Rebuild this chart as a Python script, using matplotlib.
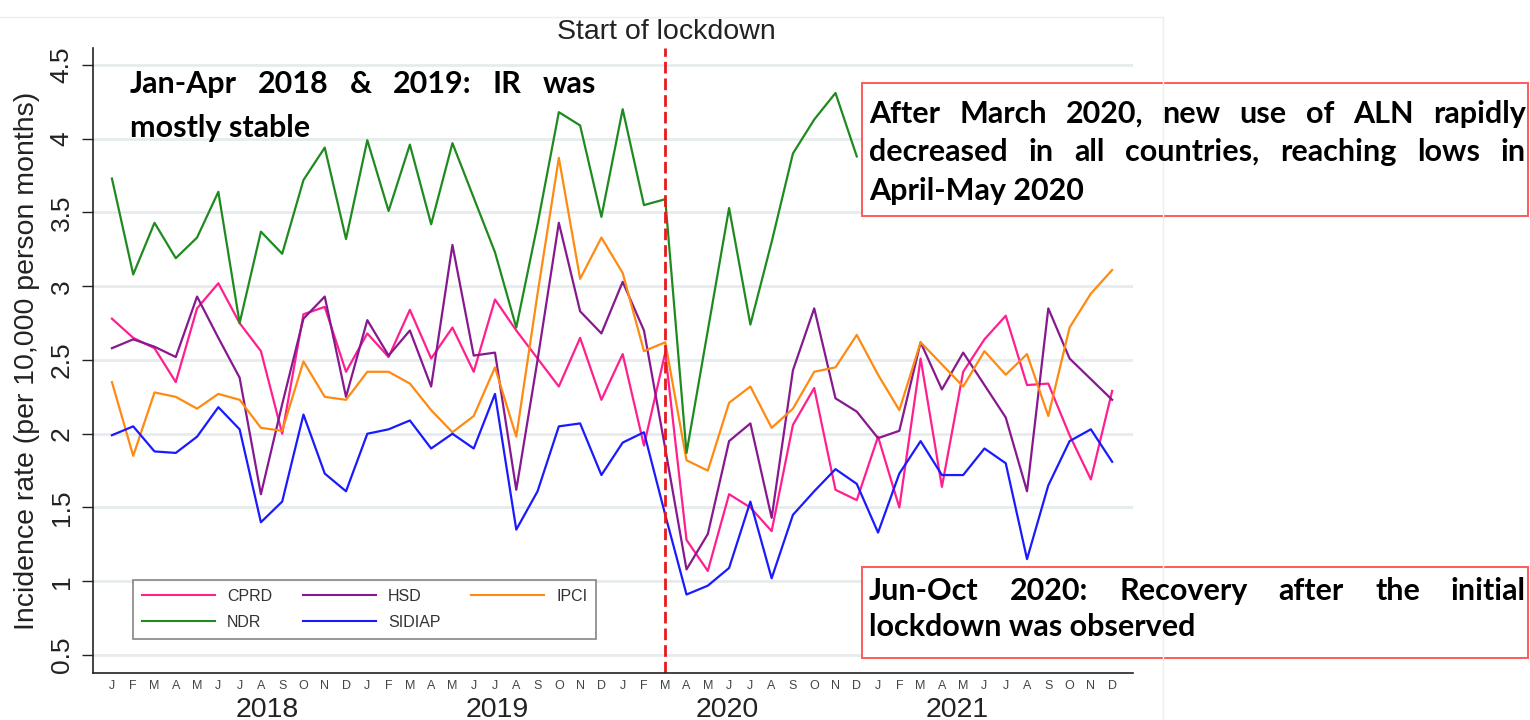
import matplotlib
matplotlib.use("Agg")
import matplotlib.pyplot as plt
from matplotlib.lines import Line2D
from matplotlib.patches import Rectangle

W, H = 1530, 720

months = ["J", "F", "M", "A", "M", "J", "J", "A", "S", "O", "N", "D"] * 4
years = ["2018", "2019", "2020", "2021"]

cprd = [2.78, 2.65, 2.58, 2.35, 2.85, 3.02, 2.75, 2.56, 2.00, 2.81, 2.86, 2.42,
        2.68, 2.52, 2.84, 2.51, 2.72, 2.42, 2.91, 2.70, 2.51, 2.32, 2.65, 2.23,
        2.54, 1.92, 2.55, 1.28, 1.07, 1.59, 1.50, 1.34, 2.06, 2.31, 1.62, 1.55,
        1.98, 1.50, 2.51, 1.64, 2.42, 2.64, 2.80, 2.33, 2.34, 1.99, 1.69, 2.29]
hsd = [2.58, 2.64, 2.59, 2.52, 2.93, 2.65, 2.38, 1.59, 2.20, 2.78, 2.93, 2.25,
       2.77, 2.53, 2.70, 2.32, 3.28, 2.53, 2.55, 1.62, 2.50, 3.43, 2.83, 2.68,
       3.03, 2.70, 1.90, 1.08, 1.32, 1.95, 2.07, 1.43, 2.43, 2.85, 2.24, 2.15,
       1.97, 2.02, 2.62, 2.30, 2.55, 2.33, 2.11, 1.61, 2.85, 2.51, 2.37, 2.23]
ipci = [2.35, 1.85, 2.28, 2.25, 2.17, 2.27, 2.23, 2.04, 2.02, 2.49, 2.25, 2.23,
        2.42, 2.42, 2.34, 2.16, 2.01, 2.12, 2.45, 1.98, 2.95, 3.87, 3.05, 3.33,
        3.09, 2.56, 2.62, 1.82, 1.75, 2.21, 2.32, 2.04, 2.17, 2.42, 2.45, 2.67,
        2.40, 2.16, 2.62, 2.47, 2.32, 2.56, 2.40, 2.54, 2.12, 2.72, 2.95, 3.11]
ndr = [3.73, 3.08, 3.43, 3.19, 3.33, 3.64, 2.75, 3.37, 3.22, 3.72, 3.94, 3.32,
       3.99, 3.51, 3.96, 3.42, 3.97, 3.60, 3.23, 2.72, 3.42, 4.18, 4.09, 3.47,
       4.20, 3.55, 3.59, 1.87, 2.70, 3.53, 2.74, 3.30, 3.90, 4.13, 4.31, 3.88]
sidiap = [1.99, 2.05, 1.88, 1.87, 1.98, 2.18, 2.03, 1.40, 1.54, 2.13, 1.73, 1.61,
          2.00, 2.03, 2.09, 1.90, 2.00, 1.90, 2.27, 1.35, 1.61, 2.05, 2.07, 1.72,
          1.94, 2.01, 1.45, 0.91, 0.97, 1.09, 1.54, 1.02, 1.45, 1.61, 1.76, 1.66,
          1.33, 1.73, 1.95, 1.72, 1.72, 1.90, 1.80, 1.15, 1.65, 1.95, 2.03, 1.81]

series = [("CPRD", cprd, "#ff1f8e"), ("HSD", hsd, "#86198f"),
          ("IPCI", ipci, "#ff8a12"), ("NDR", ndr, "#1f8a1f"),
          ("SIDIAP", sidiap, "#1a1aff")]
legend_order = ["CPRD", "NDR", "HSD", "SIDIAP", "IPCI"]  # column-major fill -> 3 per row
lockdown = 26  # March 2020
yticks = [0.5, 1, 1.5, 2, 2.5, 3, 3.5, 4, 4.5]

AX_FONT = "Liberation Sans"
NOTE_FONT = "Lato"


def fx(x):
    return x / W


def fy(y):
    return 1 - y / H


def justified(fig, words, x0, x1, y, **kw):
    r = fig.canvas.get_renderer()
    texts = [fig.text(0, fy(y), w, ha="left", va="baseline", **kw) for w in words]
    widths = [t.get_window_extent(r).width for t in texts]
    gap = (x1 - x0 - sum(widths)) / (len(words) - 1)
    x = x0
    for t, w in zip(texts, widths):
        t.set_x(fx(x))
        x += w + gap


fig = plt.figure(figsize=(W / 100, H / 100), dpi=100)
ax = fig.add_axes([fx(93), fy(673), (1133 - 93) / W, (673 - 48) / H])

lines = {}
for name, vals, col in series:
    lines[name], = ax.plot(range(len(vals)), vals, color=col, lw=1.6, label=name)

ax.axvline(lockdown, color="#e8191c", lw=2, dashes=(4.2, 1.8))

ax.set_xlim(-0.89, 47.98)
ax.set_ylim(0.378, 4.615)
ax.set_yticks(yticks)
ax.set_yticklabels([f"{v:g}" for v in yticks], fontfamily=AX_FONT, fontsize=19,
                   rotation=90, va="center", color="#222")
ax.set_xticks(range(len(months)))
ax.set_xticklabels(months, fontfamily=AX_FONT, fontsize=9, color="#444")
ax.tick_params(axis="x", length=0, pad=5)
ax.tick_params(axis="y", length=8, width=1, pad=6, color="#222")
ax.grid(axis="y", color="#e6eced", lw=2)
ax.set_axisbelow(True)
for s in ["top", "right"]:
    ax.spines[s].set_visible(False)
for s in ["left", "bottom"]:
    ax.spines[s].set_color("#222")
    ax.spines[s].set_linewidth(1.2)

# year labels under the month letters
for i, yr in enumerate(years):
    ax.text(7.3 + 10.8 * i, fy(717), yr, transform=ax.get_xaxis_transform(),
            ha="center", va="baseline", fontsize=20.5, fontfamily=AX_FONT, color="#222")
# the x transform mixes data x with axes y; convert the figure baseline to axes units
for t in ax.texts:
    t.set_y((fy(717) - fy(673)) / ((673 - 48) / H))

fig.text(fx(27), fy(361), "Incidence rate (per 10,000 person months)", rotation=90,
         ha="center", va="center", fontsize=20.5, fontfamily=AX_FONT, color="#222")
fig.text(fx(666), fy(32), "Start of lockdown", ha="center", va="center",
         fontsize=20.5, fontfamily=AX_FONT, color="#222")

leg = fig.legend([lines[n] for n in legend_order], legend_order,
                 loc="upper left", bbox_to_anchor=(fx(133), fy(580)),
                 bbox_transform=fig.transFigure, borderaxespad=0, ncol=3,
                 prop={"family": AX_FONT, "size": 11.5}, labelcolor="#333",
                 handlelength=4.6, handletextpad=0.75, columnspacing=1.9,
                 labelspacing=0.7, borderpad=0.55, fancybox=False, frameon=True)
leg.get_frame().set_edgecolor("#666")
leg.get_frame().set_linewidth(1.2)
for h in leg.legend_handles:
    h.set_linewidth(1.5)

# faint outer frame of the graph region
fig.add_artist(Line2D([0, fx(1163)], [fy(17), fy(17)], color="#eeeeee", lw=1))
fig.add_artist(Line2D([fx(1163), fx(1163)], [fy(17), 0], color="#eeeeee", lw=1))

note = dict(fontfamily=NOTE_FONT, fontweight="bold", fontsize=22, color="black")

justified(fig, "Jan-Apr 2018 & 2019: IR was".split(), 130, 596, 93, **note)
fig.text(fx(130), fy(137), "mostly stable", ha="left", va="baseline", **note)

fig.add_artist(Rectangle((fx(862), fy(216)), (1528 - 862) / W, (216 - 83) / H,
                         transform=fig.transFigure, facecolor="white",
                         edgecolor="#ff5a5a", lw=1.4))
justified(fig, "After March 2020, new use of ALN rapidly".split(), 869, 1526, 123, **note)
justified(fig, "decreased in all countries, reaching lows in".split(), 869, 1526, 161, **note)
fig.text(fx(869), fy(200), "April-May 2020", ha="left", va="baseline", **note)

fig.add_artist(Rectangle((fx(862), fy(658)), (1528 - 862) / W, (658 - 567) / H,
                         transform=fig.transFigure, facecolor="white",
                         edgecolor="#ff5a5a", lw=1.4))
justified(fig, "Jun-Oct 2020: Recovery after the initial".split(), 869, 1526, 600, **note)
fig.text(fx(869), fy(636), "lockdown was observed", ha="left", va="baseline", **note)

fig.savefig("out.png", dpi=100)
